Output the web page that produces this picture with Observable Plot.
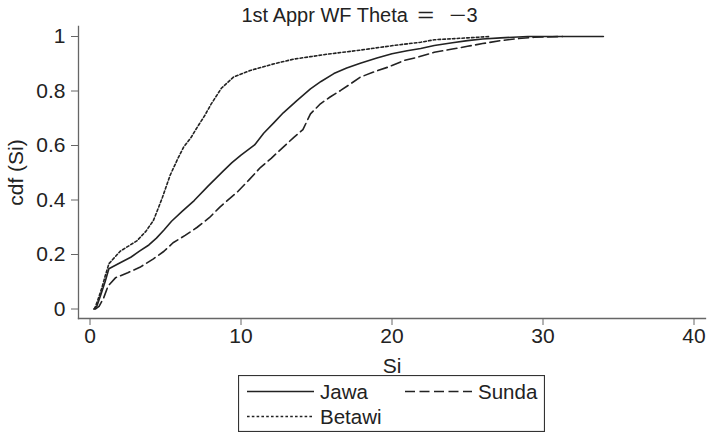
<!DOCTYPE html>
<html>
<head>
<meta charset="utf-8">
<script src="https://cdn.jsdelivr.net/npm/d3@7"></script>
<script src="https://cdn.jsdelivr.net/npm/@observablehq/plot@0.6"></script>
<style>
  body { margin: 0; background: #fff; }
  #chart { position: relative; width: 708px; height: 434px; font-family: "Liberation Sans", Arial, sans-serif; color: #222; }
  #title { position: absolute; left: 11px; top: 5px; width: 697px; text-align: center; font-size: 20px; line-height: 20px; white-space: pre; }
  #title .op { display: inline-block; margin: 0 7px; transform: scaleX(1.45); }
  #legend { position: absolute; left: 238px; top: 375px; }
</style>
</head>
<body>
<div id="chart">
  <div id="title">1st Appr WF Theta <span class="op">=</span> <span class="op" style="margin-right:3px">−</span>3</div>
</div>
<script>
// Empirical cdf of Si for each ethnic group
const jawaSi  = [0.25, 0.45, 0.7, 1.0, 1.25, 2.0, 2.7, 3.3, 3.9, 4.4, 4.9, 5.4, 6.1, 6.9, 7.8, 8.8, 9.4, 10.0, 10.9, 11.5, 12.2, 12.8, 13.7, 14.6, 15.3, 16.15, 17.0, 17.9, 19.0, 20.0, 21.0, 21.9, 22.8, 24.0, 25.0, 26.0, 27.2, 29.0, 34.0];
const jawaCdf = [0, 0.01, 0.05, 0.10, 0.148, 0.17, 0.19, 0.213, 0.235, 0.26, 0.29, 0.322, 0.358, 0.398, 0.45, 0.505, 0.537, 0.565, 0.602, 0.645, 0.685, 0.72, 0.765, 0.808, 0.835, 0.864, 0.884, 0.902, 0.921, 0.937, 0.948, 0.956, 0.967, 0.977, 0.985, 0.991, 0.995, 1, 1];

const sundaSi  = [0.35, 0.6, 0.9, 1.2, 1.7, 2.5, 3.3, 4.2, 4.9, 5.5, 6.3, 7.1, 7.9, 8.6, 9.75, 10.5, 11.3, 12.0, 12.8, 13.5, 14.1, 14.6, 15.26, 15.9, 16.6, 17.3, 17.9, 18.8, 19.7, 20.8, 21.7, 22.8, 24.0, 25.0, 26.0, 27.2, 28.3, 29.4, 31.3];
const sundaCdf = [0, 0.01, 0.04, 0.085, 0.115, 0.133, 0.153, 0.184, 0.212, 0.243, 0.27, 0.30, 0.335, 0.374, 0.429, 0.472, 0.52, 0.553, 0.594, 0.63, 0.658, 0.716, 0.753, 0.778, 0.802, 0.828, 0.851, 0.87, 0.887, 0.912, 0.924, 0.942, 0.954, 0.964, 0.974, 0.985, 0.992, 0.997, 1];

const betawiSi  = [0.3, 0.5, 0.8, 1.0, 1.25, 2.0, 3.1, 3.7, 4.2, 4.55, 4.8, 5.3, 5.8, 6.2, 6.7, 7.1, 7.6, 8.0, 8.7, 9.5, 10.6, 11.3, 12.2, 13.5, 14.6, 15.7, 17.9, 20.1, 21.9, 22.8, 25.0, 26.5];
const betawiCdf = [0, 0.03, 0.08, 0.12, 0.166, 0.212, 0.25, 0.285, 0.325, 0.374, 0.41, 0.49, 0.55, 0.594, 0.63, 0.667, 0.71, 0.75, 0.81, 0.851, 0.875, 0.886, 0.90, 0.917, 0.926, 0.935, 0.95, 0.967, 0.979, 0.988, 0.995, 1];

const seriesNames = ["Jawa", "Sunda", "Betawi"];
const seriesDash  = {Jawa: null, Sunda: "10,4.5", Betawi: "2.6,2.2"};

const xTicks = [0, 10, 20, 30, 40];
const yTicks = [0, 0.2, 0.4, 0.6, 0.8, 1];
const yTickLabels = ["0", "0.2", "0.4", "0.6", "0.8", "1"];

const toRows = (name, xs, ys) => xs.map((si, i) => ({group: name, si, cdf: ys[i]}));
const rows = {
  Jawa: toRows("Jawa", jawaSi, jawaCdf),
  Sunda: toRows("Sunda", sundaSi, sundaCdf),
  Betawi: toRows("Betawi", betawiSi, betawiCdf)
};

const ink = "#222";
const axisInk = "#666";

const chart = Plot.plot({
  width: 708,
  height: 370,
  marginLeft: 78,
  marginRight: 3,
  marginTop: 26,
  marginBottom: 52,
  insetLeft: 11.5,
  insetRight: 11.5,
  insetTop: 10,
  insetBottom: 9.5,
  x: {domain: [0, 40]},
  y: {domain: [0, 1]},
  style: {fontFamily: "'Liberation Sans', Arial, sans-serif", fontSize: "20px", background: "#fff", color: ink, overflow: "visible"},
  marks: [
    Plot.frame({anchor: "left", stroke: axisInk, strokeWidth: 1.3}),
    Plot.frame({anchor: "bottom", stroke: axisInk, strokeWidth: 1.3}),
    Plot.axisX({ticks: xTicks, tickSize: 7, tickPadding: 3, stroke: axisInk, fill: ink, fontSize: 21,
      label: "Si", labelAnchor: "center", labelOffset: 54, labelArrow: "none"}),
    Plot.axisY({ticks: yTicks, tickFormat: (d, i) => yTickLabels[i], tickSize: 7, tickPadding: 6,
      stroke: axisInk, fill: ink, fontSize: 21,
      label: "cdf (Si)", labelAnchor: "center", labelOffset: 70, labelArrow: "none"}),
    ...seriesNames.map(name => Plot.line(rows[name], {
      x: "si", y: "cdf", stroke: ink, strokeWidth: 1.6,
      strokeDasharray: seriesDash[name]
    }))
  ]
});
document.getElementById("chart").appendChild(chart);

// Legend box below the x-axis title
const lg = d3.select("#chart").append("svg")
  .attr("id", "legend").attr("width", 307).attr("height", 57)
  .style("font-family", "'Liberation Sans', Arial, sans-serif").style("font-size", "20.5px");
lg.append("rect").attr("x", 0.5).attr("y", 0.5).attr("width", 306).attr("height", 56)
  .attr("fill", "#fff").attr("stroke", "#333").attr("stroke-width", 1.2);
const slots = {Jawa: [9, 16.5], Sunda: [167, 16.5], Betawi: [9, 41.5]};
for (const name of seriesNames) {
  const [x0, y0] = slots[name];
  lg.append("line").attr("x1", x0).attr("x2", x0 + 67).attr("y1", y0).attr("y2", y0)
    .attr("stroke", ink).attr("stroke-width", 1.6)
    .attr("stroke-dasharray", seriesDash[name]);
  lg.append("text").attr("x", x0 + 73).attr("y", y0).attr("dy", "0.35em")
    .attr("fill", ink).text(name);
}
</script>
</body>
</html>
